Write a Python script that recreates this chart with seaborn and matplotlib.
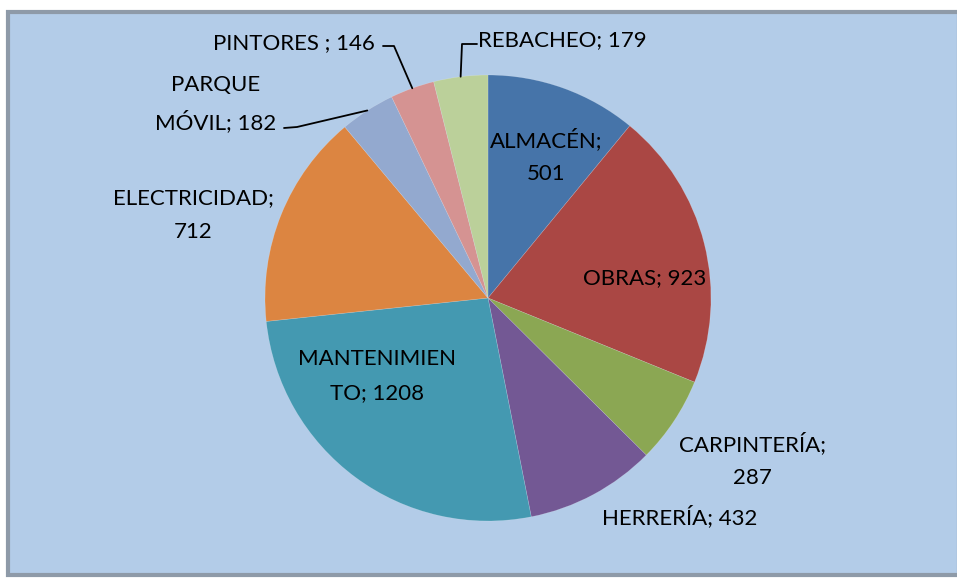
import numpy as np
import matplotlib
matplotlib.use("Agg")
import matplotlib.pyplot as plt
from matplotlib.patches import Rectangle
import seaborn as sns

categories = ["ALMACÉN", "OBRAS", "CARPINTERÍA", "HERRERÍA", "MANTENIMIENTO",
              "ELECTRICIDAD", "PARQUE MÓVIL", "PINTORES", "REBACHEO"]
values = [501, 923, 287, 432, 1208, 712, 182, 146, 179]
label_texts = ["ALMACÉN;\n501", "OBRAS; 923", "CARPINTERÍA;\n287", "HERRERÍA; 432",
               "MANTENIMIEN\nTO; 1208", "ELECTRICIDAD;\n712", "PARQUE\nMÓVIL; 182",
               "PINTORES ; 146", "REBACHEO; 179"]
colors = ["#4674A9", "#AA4744", "#8BA753", "#735894", "#4499B1",
          "#DC8541", "#93A9CF", "#D59392", "#BBD09A"]

sns.set_style("white")
plt.rcParams['font.family'] = ['Lato', 'DejaVu Sans']

fig = plt.figure(figsize=(9.57, 5.80), dpi=100)
fig.patch.set_facecolor("white")

W, H = 957.0, 580.0
bg = Rectangle((8 / W, 5 / H), (W - 6) / W, (568 - 5) / H, transform=fig.transFigure,
               facecolor="#B3CCE8", edgecolor="#8E9AA8", linewidth=3, zorder=-10)
fig.patches.append(bg)

cx, cy, r = 488, 298, 223
ax = fig.add_axes([(cx - r) / W, (H - cy - r) / H, 2 * r / W, 2 * r / H])
ax.set_zorder(5)
ax.set_facecolor("none")
pal = sns.color_palette(colors)
wedges, _ = ax.pie(values, colors=pal, startangle=90, counterclock=False,
                   radius=1.0, wedgeprops=dict(linewidth=0.4, edgecolor=(1, 1, 1, 0.25)))
ax.set_xlim(-1, 1)
ax.set_ylim(-1, 1)
ax.set_aspect("equal")
ax.axis("off")

def px(x, y):
    return ((x - cx) / r, (cy - y) / r)

label_pos = [px(546, 156), px(645, 278), px(752, 460), px(680, 517), px(377, 376),
             px(193, 215), px(216, 104), px(294, 43), px(562, 40)]

fs = 16
for i, (t, (x, y)) in enumerate(zip(label_texts, label_pos)):
    ax.text(x, y, t, ha="center", va="center", fontsize=fs, color="black",
            multialignment="center", linespacing=1.85, clip_on=False, zorder=5)

def anchor(i, rr=1.0):
    w = wedges[i]
    ang = np.deg2rad((w.theta1 + w.theta2) / 2)
    return rr * np.cos(ang), rr * np.sin(ang)

leaders = {
    6: [px(284, 128), px(297, 127)],
    7: [px(383, 46), px(394, 46)],
    8: [px(477, 44), px(462, 44)],
}
for i, pts in leaders.items():
    ax_, ay_ = anchor(i, 1.0)
    xs = [p[0] for p in pts] + [ax_]
    ys = [p[1] for p in pts] + [ay_]
    ax.plot(xs, ys, color="black", linewidth=1.3, clip_on=False, zorder=4)

fig.savefig("out.png", dpi=100, facecolor=fig.get_facecolor())
